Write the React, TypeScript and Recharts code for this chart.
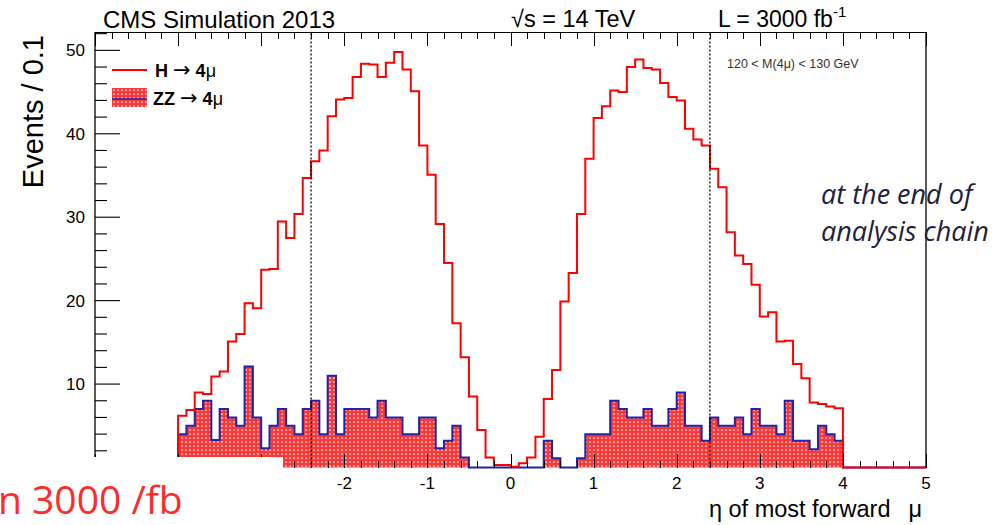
import React from 'react';
import { ComposedChart, Line, Area, XAxis, YAxis, ReferenceLine } from 'recharts';

// Events / 0.1 in eta of the most forward muon, 120 < M(4mu) < 130 GeV
const etaFirstBin = -4.0;
const etaBinWidth = 0.1;

// H -> 4mu signal, 80 bins from eta = -4.0 to 4.0
const higgsEvents = [
  6.2, 6.9, 9.0, 8.8, 10.9, 11.5, 15.1, 16.0, 19.7, 19.1,
  23.7, 23.8, 29.5, 27.5, 30.4, 34.7, 36.7, 38.0, 42.1, 44.1,
  44.3, 46.8, 48.4, 48.3, 46.8, 48.5, 49.8, 47.7, 45.1, 38.6,
  35.1, 29.2, 24.5, 17.3, 13.2, 8.5, 4.5, 1.2, 0.3, 0.3,
  0.1, 0.5, 1.2, 3.7, 8.2, 11.7, 19.9, 23.3, 30.4, 37.0,
  41.9, 43.3, 45.2, 45.0, 48.0, 48.9, 47.9, 47.7, 46.1, 44.4,
  44.0, 40.6, 39.3, 38.6, 35.8, 33.6, 28.2, 25.4, 24.4, 21.9,
  18.1, 18.6, 15.1, 15.2, 12.4, 10.7, 7.8, 7.6, 7.3, 7.1,
];

// ZZ -> 4mu background, same binning
const zzEvents = [
  4.0, 5.0, 7.0, 8.0, 3.3, 7.0, 6.0, 5.0, 12.1, 6.0,
  2.3, 5.0, 7.0, 5.0, 4.0, 7.0, 8.0, 4.0, 11.0, 4.0,
  7.0, 7.0, 7.0, 6.0, 8.0, 6.0, 6.0, 4.0, 4.0, 6.0,
  6.0, 2.3, 3.2, 5.0, 1.2, 0, 0, 0, 0, 0,
  0, 0, 0, 0, 3.2, 1.1, 0, 0, 1.1, 4.0,
  4.0, 4.0, 8.0, 7.0, 6.0, 6.0, 7.0, 5.0, 5.0, 7.0,
  9.0, 5.0, 5.0, 3.2, 6.0, 5.0, 5.0, 6.0, 4.0, 7.0,
  5.0, 5.0, 4.0, 8.0, 3.2, 3.2, 2.2, 5.0, 4.0, 3.2,
];

const etaRange = [-5, 5];
const eventsRange = [0, 52.2];
const etaCuts = [-2.4, 2.4];

// tick positions: minor every 0.2 in eta, every 2 events
const etaTicks = Array.from({ length: 51 }, (_, i) => Math.round((-5 + 0.2 * i) * 10) / 10);
const eventTicks = Array.from({ length: 27 }, (_, i) => 2 * i);

const isMajor = (v: number, step: number) => Math.abs(v / step - Math.round(v / step)) < 1e-6;

// histogram rows at bin low edges; stepAfter turns them into bars
const histRows = [
  { eta: etaRange[0], h: 0, zz: 0 },
  ...higgsEvents.map((h, i) => ({
    eta: Math.round((etaFirstBin + etaBinWidth * i) * 10) / 10,
    h,
    zz: zzEvents[i],
  })),
  { eta: Math.round((etaFirstBin + etaBinWidth * higgsEvents.length) * 10) / 10, h: 0, zz: 0 },
  { eta: etaRange[1], h: 0, zz: 0 },
];

const W = 996;
const H = 525;
const frame = { top: 32, right: 70, bottom: 57.5, left: 95 };
const plotLeft = frame.left;
const plotRight = W - frame.right;
const plotTop = frame.top;
const plotBottom = H - frame.bottom;
// position of an eta tick along the frame, same linear mapping as the plot area
const etaTickX = (v: number) =>
  plotLeft + ((v - etaRange[0]) / (etaRange[1] - etaRange[0])) * (plotRight - plotLeft);

const rootFont = '"Liberation Sans", Arial, Helvetica, sans-serif';
const symbolFont = '"DejaVu Sans", sans-serif';
const slideFont = '"Open Sans", "Noto Sans", sans-serif';
const ink = '#000';
const higgsRed = '#ff0000';
const zzBlue = '#2323a6';

const BottomLabel = (props: any) => {
  const { x, y, payload } = props;
  const v = payload.value as number;
  if (!isMajor(v, 1)) return <g />;
  return (
    <text x={x} y={y + 21} textAnchor="middle" fontFamily={rootFont} fontSize={17} fill={ink}>
      {v}
    </text>
  );
};

const LeftTick = (props: any) => {
  const { x, y, payload } = props;
  const v = payload.value as number;
  const major = isMajor(v, 10);
  return (
    <g>
      <line x1={x} x2={x + (major ? 25 : 12)} y1={y} y2={y} stroke={ink} strokeWidth={1.1} />
      {major && (
        <text x={x - 10} y={y + 6} textAnchor="end" fontFamily={rootFont} fontSize={17} fill={ink}>
          {v}
        </text>
      )}
    </g>
  );
};

const RightTick = (props: any) => {
  const { x, y, payload } = props;
  const major = isMajor(payload.value, 10);
  return <line x1={x} x2={x - (major ? 28 : 14)} y1={y} y2={y} stroke={ink} strokeWidth={1.1} />;
};

const DotPattern = ({ id }: { id: string }) => (
  <pattern id={id} width={4} height={4} patternUnits="userSpaceOnUse">
    <rect width={4} height={4} fill="#ff3737" />
    <circle cx={2} cy={2} r={0.85} fill="#ffffff" />
  </pattern>
);

const axisLine = { stroke: ink, strokeWidth: 1.3 };

// one path holding the top frame edge plus all inward eta ticks
const frameTicksPath = (() => {
  const parts: string[] = [`M${plotLeft},${plotTop + 0.5}H${plotRight}`];
  etaTicks.forEach((v) => {
    const x = Math.round(etaTickX(v)) + 0.5;
    const len = isMajor(v, 1) ? 14 : 7;
    parts.push(`M${x},${plotTop}V${plotTop + len}`);
    parts.push(`M${x},${plotBottom}V${plotBottom - len}`);
  });
  return parts.join('');
})();

function EtaPlot() {
  return (
    <ComposedChart width={W} height={H} data={histRows} margin={{ top: frame.top, right: 0, bottom: 0, left: 0 }}>
      <defs>
        <DotPattern id="zzDots" />
      </defs>
      <XAxis
        xAxisId="b"
        dataKey="eta"
        type="number"
        domain={etaRange}
        ticks={etaTicks}
        interval={0}
        height={frame.bottom}
        tickSize={0}
        tickMargin={0}
        tickLine={false}
        axisLine={false}
        tick={(p: any) => <BottomLabel {...p} />}
      />
      <YAxis
        yAxisId="l"
        type="number"
        domain={eventsRange}
        ticks={eventTicks}
        interval={0}
        width={frame.left}
        tickSize={0}
        tickMargin={0}
        tickLine={false}
        axisLine={axisLine}
        tick={(p: any) => <LeftTick {...p} />}
      />
      <YAxis
        yAxisId="r"
        orientation="right"
        type="number"
        domain={eventsRange}
        ticks={eventTicks}
        interval={0}
        width={frame.right}
        tickSize={0}
        tickMargin={0}
        tickLine={false}
        axisLine={axisLine}
        tick={(p: any) => <RightTick {...p} />}
      />
      <Area
        xAxisId="b"
        yAxisId="l"
        dataKey="zz"
        type="stepAfter"
        fill="url(#zzDots)"
        fillOpacity={1}
        stroke={zzBlue}
        strokeWidth={2}
        isAnimationActive={false}
      />
      <Line
        xAxisId="b"
        yAxisId="l"
        dataKey="h"
        type="stepAfter"
        stroke={higgsRed}
        strokeWidth={2}
        dot={false}
        activeDot={false}
        isAnimationActive={false}
      />
      {etaCuts.map((c) => (
        <ReferenceLine
          key={c}
          xAxisId="b"
          yAxisId="l"
          x={c}
          stroke="#000"
          strokeWidth={1.3}
          strokeDasharray="2 2"
        />
      ))}
    </ComposedChart>
  );
}

const arrowStyle = { fontFamily: symbolFont, fontWeight: 'normal' as const };

export default function App() {
  return (
    <div style={{ position: 'absolute', left: 0, top: 0, width: W, height: H, background: '#fff', overflow: 'hidden' }}>
      <div style={{ position: 'absolute', left: 0, top: 0 }}>
        <EtaPlot />
      </div>

      <svg width={W} height={H} style={{ position: 'absolute', left: 0, top: 0, pointerEvents: 'none' }}>
        <defs>
          <DotPattern id="zzDotsKey" />
        </defs>

        {/* top edge of the frame and inward eta ticks on top and bottom */}
        <path d={frameTicksPath} fill="none" stroke={ink} strokeWidth={1.4} shapeRendering="crispEdges" />

        {/* header */}
        <text x={103} y={28} fontFamily={rootFont} fontSize={24} fill={ink}>CMS Simulation 2013</text>
        <text x={511} y={27} fontFamily={rootFont} fontSize={23.5} fill={ink}>√s = 14 TeV</text>
        <text x={718} y={27} fontFamily={rootFont} fontSize={23} fill={ink}>
          L = 3000 fb<tspan dy={-10} fontSize={15}>-1</tspan>
        </text>

        {/* axis titles */}
        <text
          transform="translate(43,35) rotate(-90)"
          textAnchor="end"
          fontFamily={rootFont}
          fontSize={29}
          fill={ink}
        >
          Events / 0.1
        </text>
        <text x={922} y={517} textAnchor="end" fontFamily={rootFont} fontSize={23.5} fill={ink}>
          η of most forward<tspan dx={18}>μ</tspan>
        </text>

        {/* legend */}
        <line x1={112} x2={147} y1={70} y2={70} stroke={higgsRed} strokeWidth={2} />
        <text x={155} y={76.5} fontFamily={rootFont} fontSize={18} fontWeight="bold" fill={ink}>
          H <tspan style={arrowStyle} fontSize={21}>→</tspan> 4<tspan fontWeight="normal">μ</tspan>
        </text>
        <rect x={112} y={88} width={35} height={19} fill="url(#zzDotsKey)" />
        <line x1={112} x2={147} y1={99} y2={99} stroke={zzBlue} strokeWidth={1.5} />
        <text x={153} y={104.5} fontFamily={rootFont} fontSize={18} fontWeight="bold" fill={ink}>
          ZZ <tspan style={arrowStyle} fontSize={21}>→</tspan> 4<tspan fontWeight="normal">μ</tspan>
        </text>

        <text x={727} y={68} fontFamily={rootFont} fontSize={12.5} fill="#333">
          120 &lt; M(4μ) &lt; 130 GeV
        </text>

        {/* slide annotations */}
        <text x={821} y={204} fontFamily={slideFont} fontStyle="italic" fontSize={27} fill="#1e2040">
          at the end of
        </text>
        <text x={821} y={241} fontFamily={slideFont} fontStyle="italic" fontSize={27} fill="#1e2040">
          analysis chain
        </text>
        <rect x={0} y={457} width={283} height={68} fill="#fff" />
        <text x={-2} y={514} fontFamily={slideFont} fontSize={39} fill="#ff2a2a">
          n 3000 /fb
        </text>
      </svg>
    </div>
  );
}
